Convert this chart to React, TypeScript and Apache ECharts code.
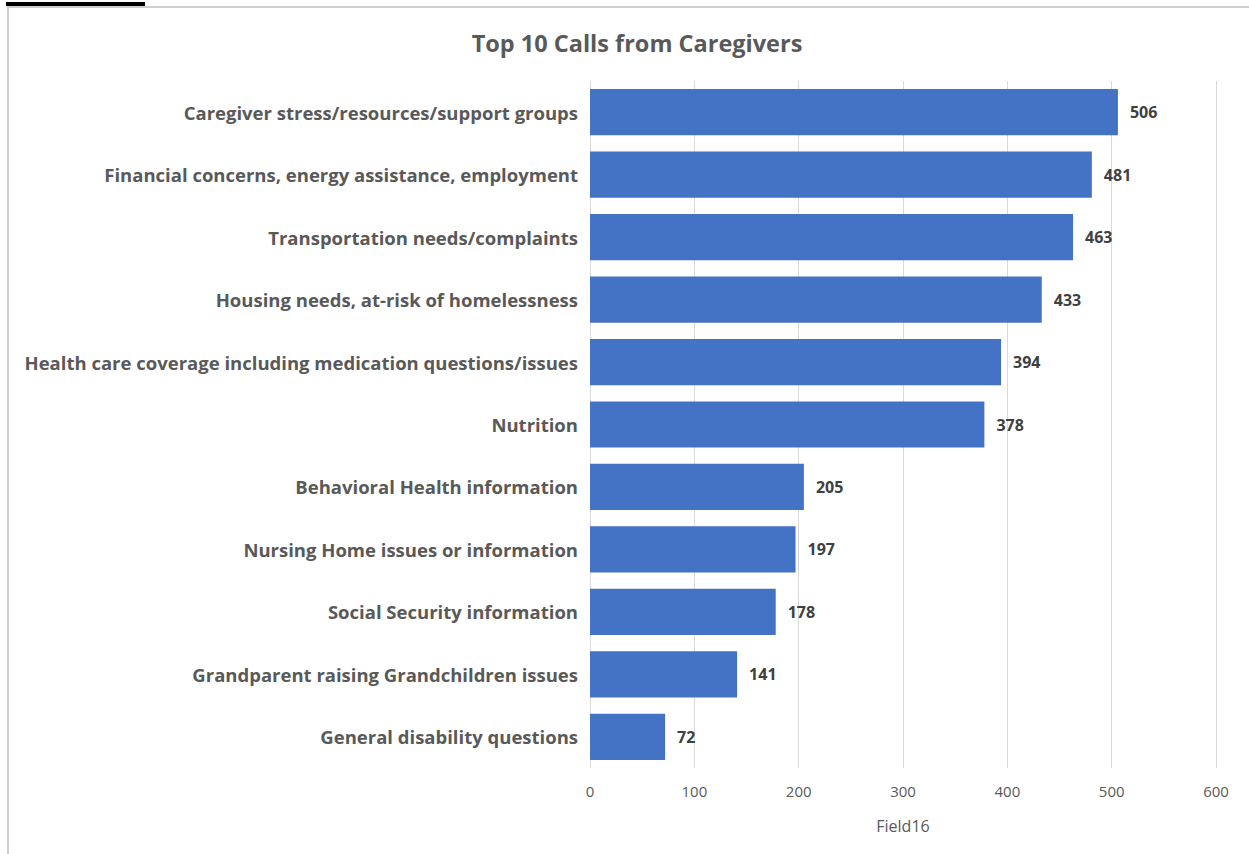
import React, { useEffect, useRef } from "react";
import * as echarts from "echarts";

const categories = [
  "Caregiver stress/resources/support groups",
  "Financial concerns, energy assistance, employment",
  "Transportation needs/complaints",
  "Housing needs, at-risk of homelessness",
  "Health care coverage including medication questions/issues",
  "Nutrition",
  "Behavioral Health information",
  "Nursing Home issues or information",
  "Social Security information",
  "Grandparent raising Grandchildren issues",
  "General disability questions",
];
const values = [506, 481, 463, 433, 394, 378, 205, 197, 178, 141, 72];
const titleText = "Top 10 Calls from Caregivers";
const axisName = "Field16";

const FONT = "'Open Sans', 'Liberation Sans', sans-serif";

export default function App() {
  const ref = useRef<HTMLDivElement>(null);
  useEffect(() => {
    if (!ref.current) return;
    const chart = echarts.init(ref.current, null, { renderer: "svg" });
    chart.setOption({
      animation: false,
      backgroundColor: "transparent",
      title: {
        text: titleText,
        left: 632,
        textAlign: "center",
        top: 26,
        textStyle: { fontFamily: FONT, fontSize: 23.5, fontWeight: 700, color: "#595959" },
      },
      grid: { left: 590, right: 33, top: 81, height: 687, containLabel: false },
      xAxis: {
        type: "value",
        min: 0,
        max: 600,
        interval: 100,
        name: axisName,
        nameLocation: "middle",
        nameGap: 50,
        nameTextStyle: { fontFamily: FONT, fontSize: 16, color: "#595959" },
        axisLine: { show: false },
        axisTick: { show: false },
        axisLabel: { margin: 15, fontFamily: FONT, fontSize: 15, color: "#595959" },
        splitLine: { show: true, lineStyle: { color: "#d9d9d9", width: 1 } },
      },
      yAxis: {
        type: "category",
        data: categories,
        inverse: true,
        axisLine: { show: false },
        axisTick: { show: false },
        axisLabel: {
          margin: 12,
          fontFamily: FONT,
          fontSize: 18.5,
          fontWeight: 700,
          color: "#595959",
        },
      },
      series: [
        {
          type: "bar",
          data: values,
          barCategoryGap: "26%",
          itemStyle: { color: "#4472C4" },
          label: {
            show: true,
            position: "right",
            distance: 12,
            fontFamily: FONT,
            fontSize: 16,
            fontWeight: 700,
            color: "#404040",
          },
        },
      ],
    });
    return () => chart.dispose();
  }, []);
  return (
    <div style={{ position: "fixed", left: 0, top: 0, width: 1249, height: 854, background: "#fff" }}>
      <div style={{ position: "absolute", left: 6, top: 2, width: 139, height: 4, background: "#000" }} />
      <div style={{ position: "absolute", left: 7, top: 6, width: 1242, height: 2, background: "#cfcfcf" }} />
      <div style={{ position: "absolute", left: 7, top: 6, width: 2, height: 848, background: "#cfcfcf" }} />
      <div ref={ref} style={{ position: "absolute", left: 0, top: 0, width: 1249, height: 854 }} />
    </div>
  );
}
